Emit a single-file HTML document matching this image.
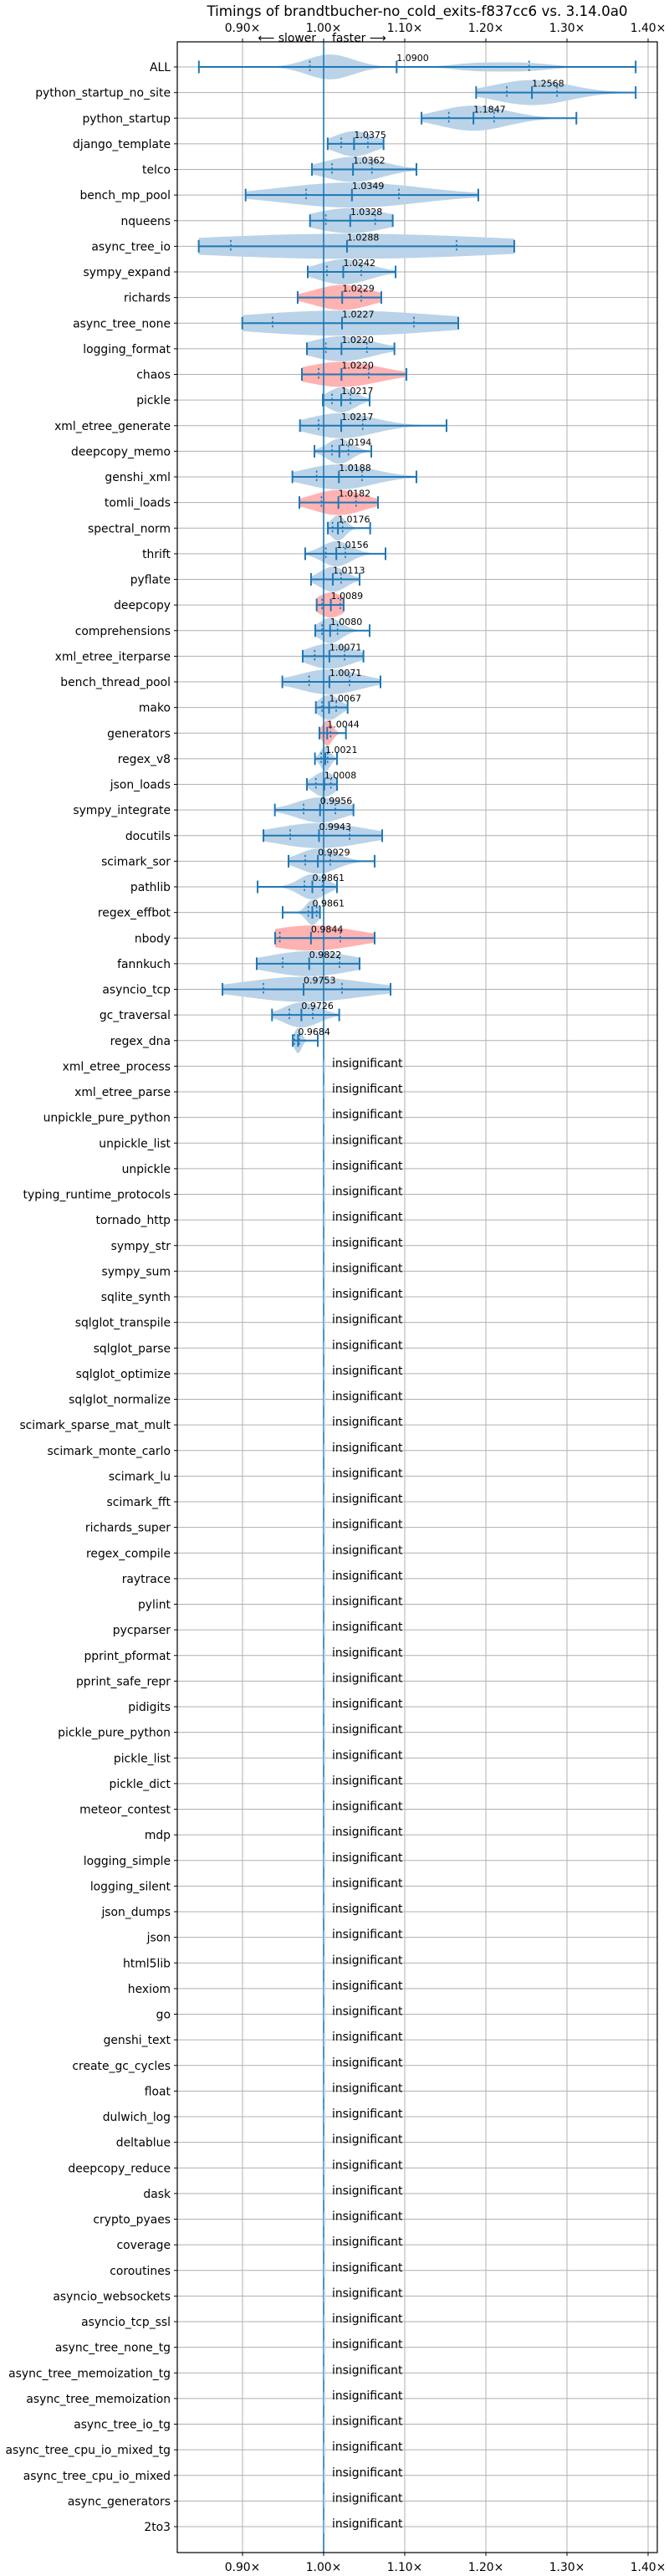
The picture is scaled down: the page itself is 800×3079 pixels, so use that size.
<!DOCTYPE html>
<html><head><meta charset="utf-8">
<style>
html,body{margin:0;padding:0;background:#fff;}
svg{display:block;font-family:"DejaVu Sans","Liberation Sans",sans-serif;}
</style></head>
<body>
<svg id="chart" width="800" height="3079" viewBox="0 0 800 3079" xmlns="http://www.w3.org/2000/svg">
<rect x="0" y="0" width="800" height="3079" fill="#fff"/>
<text x="499" y="19" text-anchor="middle" font-size="16.7" fill="#000">Timings of brandtbucher-no_cold_exits-f837cc6 vs. 3.14.0a0</text>
<text x="378" y="50" text-anchor="end" font-size="13.9" fill="#000">⟵ slower</text>
<text x="397" y="50" text-anchor="start" font-size="13.9" fill="#000">faster ⟶</text>
<g id="grid"></g>
<g id="marks"></g>
<g id="axes"></g>
</svg>
<script>
const names = ["ALL","python_startup_no_site","python_startup","django_template","telco","bench_mp_pool","nqueens","async_tree_io","sympy_expand","richards","async_tree_none","logging_format","chaos","pickle","xml_etree_generate","deepcopy_memo","genshi_xml","tomli_loads","spectral_norm","thrift","pyflate","deepcopy","comprehensions","xml_etree_iterparse","bench_thread_pool","mako","generators","regex_v8","json_loads","sympy_integrate","docutils","scimark_sor","pathlib","regex_effbot","nbody","fannkuch","asyncio_tcp","gc_traversal","regex_dna","xml_etree_process","xml_etree_parse","unpickle_pure_python","unpickle_list","unpickle","typing_runtime_protocols","tornado_http","sympy_str","sympy_sum","sqlite_synth","sqlglot_transpile","sqlglot_parse","sqlglot_optimize","sqlglot_normalize","scimark_sparse_mat_mult","scimark_monte_carlo","scimark_lu","scimark_fft","richards_super","regex_compile","raytrace","pylint","pycparser","pprint_pformat","pprint_safe_repr","pidigits","pickle_pure_python","pickle_list","pickle_dict","meteor_contest","mdp","logging_simple","logging_silent","json_dumps","json","html5lib","hexiom","go","genshi_text","create_gc_cycles","float","dulwich_log","deltablue","deepcopy_reduce","dask","crypto_pyaes","coverage","coroutines","asyncio_websockets","asyncio_tcp_ssl","async_tree_none_tg","async_tree_memoization_tg","async_tree_memoization","async_tree_io_tg","async_tree_cpu_io_mixed_tg","async_tree_cpu_io_mixed","async_generators","2to3"];
const medians = [1.0900,1.2568,1.1847,1.0375,1.0362,1.0349,1.0328,1.0288,1.0242,1.0229,1.0227,1.0220,1.0220,1.0217,1.0217,1.0194,1.0188,1.0182,1.0176,1.0156,1.0113,1.0089,1.0080,1.0071,1.0071,1.0067,1.0044,1.0021,1.0008,0.9956,0.9943,0.9929,0.9861,0.9861,0.9844,0.9822,0.9753,0.9726,0.9684];
const mins = [0.8462,1.188,1.1207,1.005,0.9856,0.9038,0.9832,0.846,0.9804,0.968,0.8997,0.9794,0.9732,0.999,0.9708,0.9887,0.9615,0.9701,1.0052,0.9773,0.9845,0.9914,0.9897,0.9742,0.9491,0.9904,0.9948,0.9893,0.9794,0.9399,0.9258,0.9567,0.9186,0.9495,0.9402,0.9175,0.8753,0.9364,0.9619];
const q1s = [0.983,1.2258,1.1543,1.0217,1.0103,0.9784,1.0027,0.8856,1.0041,1.000,0.9371,1.0027,0.9938,1.0103,0.9938,1.0103,0.9914,0.9973,1.011,1.0027,1.000,0.998,0.998,0.989,0.9821,0.998,1.000,0.997,0.9904,0.9753,0.9588,0.9773,0.9763,0.9811,0.946,0.9495,0.9258,0.9577,0.964];
const q3s = [1.2533,1.2878,1.2101,1.0546,1.0595,1.0928,1.0636,1.1639,1.0464,1.0464,1.1113,1.0533,1.0557,1.033,1.0481,1.0306,1.0474,1.0399,1.0234,1.0268,1.0216,1.0206,1.0172,1.0258,1.032,1.0155,1.0086,1.005,1.0089,1.0144,1.032,1.0082,0.9986,0.9914,1.0206,1.0196,1.0227,0.9866,0.9701];
const maxs = [1.3847,1.3847,1.3116,1.0739,1.1144,1.1907,1.0852,1.235,1.0887,1.0711,1.166,1.0873,1.1021,1.0567,1.1515,1.0588,1.1144,1.067,1.0574,1.0763,1.0443,1.0247,1.0567,1.0491,1.0701,1.0296,1.0275,1.0165,1.0165,1.0368,1.0722,1.0629,1.0165,0.9955,1.0629,1.0443,1.0825,1.0192,0.9928];
const colors = ["b","b","b","b","b","b","b","b","b","r","b","b","r","b","b","b","b","r","b","b","b","r","b","b","b","b","r","b","b","b","b","b","b","b","r","b","b","b","b"];
const allPeaks = [[1.008,1.0,0.028],[1.19,0.3,0.03],[1.25,0.3,0.03]];
const xTicks = [0.90,1.00,1.10,1.20,1.30,1.40];
const xTickLabels = ["0.90×","1.00×","1.10×","1.20×","1.30×","1.40×"];

const NS = "http://www.w3.org/2000/svg";
const L = 212, R = 786, T = 50, B = 3051;
const Y0 = 80, DY = 30.625;
function xs(v){ return 387 + (v - 1) * 970; }
function ys(i){ return Y0 + i * DY; }
function mk(tag, attrs, parent){
  const e = document.createElementNS(NS, tag);
  for (const k in attrs) e.setAttribute(k, attrs[k]);
  parent.appendChild(e);
  return e;
}
const grid = document.getElementById('grid');
const marks = document.getElementById('marks');
const axes = document.getElementById('axes');

// vertical grid + tick labels
xTicks.forEach((t, k) => {
  const x = xs(t);
  const g = mk('line', {x1:x, x2:x, y1:T, y2:B, stroke:'#b0b0b0', 'stroke-width':1}, grid);
  
  
  [[T-4,T],[B,B+4]].forEach(p => {
    const tk = mk('line', {x1:x, x2:x, y1:p[0], y2:p[1], stroke:'#000', 'stroke-width':1}, axes);
    
    
  });
  const tl = mk('text', {x:x, y:38, 'text-anchor':'middle', 'font-size':13.9, fill:'#000'}, axes);
  tl.textContent = xTickLabels[k];
  
  
  const bl = mk('text', {x:x, y:3073, 'text-anchor':'middle', 'font-size':13.9, fill:'#000'}, axes);
  bl.textContent = xTickLabels[k];
  
  
});

// rows
names.forEach((n, i) => {
  const y = ys(i);
  const g = mk('line', {x1:L, x2:R, y1:y, y2:y, stroke:'#b0b0b0', 'stroke-width':1}, grid);
  
  
  const tk = mk('line', {x1:L-4, x2:L, y1:y, y2:y, stroke:'#000', 'stroke-width':1}, axes);
  
  
  const lb = mk('text', {x:L-8, y:y+5, 'text-anchor':'end', 'font-size':13.9, fill:'#000'}, axes);
  lb.textContent = n;
  
  
});

// violins
function density(i, v){
  if (i === 0) {
    let s = 0;
    allPeaks.forEach(p => { s += p[1] * Math.exp(-0.5 * Math.pow((v - p[0]) / p[2], 2)); });
    return s;
  }
  const sig = Math.max((q3s[i] - q1s[i]) / 1.35, 0.003);
  return Math.exp(-0.5 * Math.pow((v - medians[i]) / sig, 2));
}
for (let i = 0; i < medians.length; i++) {
  const y = ys(i);
  const N = 60;
  const pts = [];
  let mx = 0;
  const vals = [];
  for (let k = 0; k <= N; k++) {
    const v = mins[i] + (maxs[i] - mins[i]) * k / N;
    const d = density(i, v);
    vals.push([v, d]);
    if (d > mx) mx = d;
  }
  const H = 15;
  vals.forEach(p => pts.push(xs(p[0]).toFixed(1) + ',' + (y - H * p[1] / mx).toFixed(1)));
  for (let k = vals.length - 1; k >= 0; k--) pts.push(xs(vals[k][0]).toFixed(1) + ',' + (y + H * vals[k][1] / mx).toFixed(1));
  const vio = mk('polygon', {points: pts.join(' '), fill: colors[i] === 'r' ? '#ffb2b2' : '#bad3e8', stroke:'none'}, marks);
  
  
}
// vertical 1.00 line
const ref = mk('line', {x1:xs(1), x2:xs(1), y1:T, y2:B, stroke:'#1f77b4', 'stroke-width':1.6}, marks);



for (let i = 0; i < medians.length; i++) {
  const y = ys(i);
  const w = mk('line', {x1:xs(mins[i]), x2:xs(maxs[i]), y1:y, y2:y, stroke:'#1f77b4', 'stroke-width':2}, marks);
  
  
  [mins[i], maxs[i], medians[i]].forEach(v => {
    const c = mk('line', {x1:xs(v), x2:xs(v), y1:y-7.5, y2:y+7.5, stroke:'#1f77b4', 'stroke-width':2}, marks);
    
    
  });
  [q1s[i], q3s[i]].forEach(v => {
    const q = mk('line', {x1:xs(v), x2:xs(v), y1:y-7.5, y2:y+7.5, stroke:'#1f77b4', 'stroke-width':1.6, 'stroke-dasharray':'2.5,2.5'}, marks);
    
    
  });
  const t = mk('text', {x:xs(medians[i]), y:y-7, 'font-size':11, fill:'#000'}, marks);
  t.textContent = medians[i].toFixed(4);
  
  
}
for (let i = medians.length; i < names.length; i++) {
  const y = ys(i);
  const m = mk('line', {x1:xs(1)+1, x2:xs(1)+1, y1:y-8, y2:y+8, stroke:'#bad3e8', 'stroke-width':2}, marks);
  
  
  const t = mk('text', {x:397, y:y+1, 'font-size':13.9, fill:'#000'}, marks);
  t.textContent = 'insignificant';
  
  
}
// frame
const fr = mk('rect', {x:L, y:T, width:R-L, height:B-T, fill:'none', stroke:'#000', 'stroke-width':1.2}, axes);


</script>
</body></html>
